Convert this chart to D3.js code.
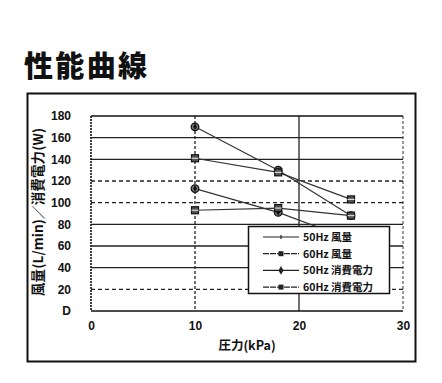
<!DOCTYPE html>
<html><head><meta charset="utf-8">
<script src="https://cdn.jsdelivr.net/npm/d3@7"></script>
<style>
html,body{margin:0;padding:0;background:#fff;}
svg{display:block;}
text{font-family:"Liberation Sans","DejaVu Sans","Noto Sans CJK JP",sans-serif;fill:#111;}
.jp{font-family:"Noto Sans CJK JP",sans-serif;}
</style></head><body>
<script>
const title = "性能曲線";
const xLabel = "圧力(kPa)";
const yLabel = "風量(L/min)／消費電力(W)";
const pressure = [10, 18, 25];
const seriesNames = ["50Hz 風量", "60Hz 風量", "50Hz 消費電力", "60Hz 消費電力"];
const seriesA = [170, 130, 88];
const seriesB = [141, 128, 103];
const seriesC = [113, 91, 66];
const seriesD = [93, 95, 88];
const xTicks = [0, 10, 20, 30];
const yTicks = [0, 20, 40, 60, 80, 100, 120, 140, 160, 180];
const yTickLabels = ["D", "20", "40", "60", "80", "100", "120", "140", "160", "180"];

const W = 442, H = 383;
const svg = d3.select("body").append("svg").attr("width", W).attr("height", H);

// title
svg.append("text").attr("class", "jp").attr("x", 24).attr("y", 77)
  .attr("font-size", 29).attr("font-weight", 900)
  .attr("textLength", 123).attr("lengthAdjust", "spacing").text(title);

// outer frame
svg.append("rect").attr("x", 27.5).attr("y", 93.5).attr("width", 388).attr("height", 268)
  .attr("fill", "none").attr("stroke", "#111").attr("stroke-width", 2);

const x = d3.scaleLinear().domain([0, 30]).range([91, 403]);
const y = d3.scaleLinear().domain([0, 180]).range([311, 116]);

// horizontal grid
const dashedY = new Set([20, 100, 120]);
svg.append("g").selectAll("line").data(yTicks.filter(v => v > 0 && v < 180)).join("line")
  .attr("x1", x(0)).attr("x2", x(30)).attr("y1", d => y(d)).attr("y2", d => y(d))
  .attr("stroke", "#222").attr("stroke-width", 1.3)
  .attr("stroke-dasharray", d => dashedY.has(d) ? "4,3" : null);
// vertical grid
svg.append("line").attr("x1", x(10)).attr("x2", x(10)).attr("y1", y(180)).attr("y2", y(0))
  .attr("stroke", "#222").attr("stroke-width", 1.3).attr("stroke-dasharray", "3,2");
svg.append("line").attr("x1", x(20)).attr("x2", x(20)).attr("y1", y(180)).attr("y2", y(0))
  .attr("stroke", "#222").attr("stroke-width", 1.3);
// plot border
svg.append("line").attr("x1", x(0)).attr("x2", x(30)).attr("y1", y(180)).attr("y2", y(180))
  .attr("stroke", "#111").attr("stroke-width", 1.6);
svg.append("line").attr("x1", x(0)).attr("x2", x(30)).attr("y1", y(0)).attr("y2", y(0))
  .attr("stroke", "#111").attr("stroke-width", 1.6);
svg.append("line").attr("x1", x(30)).attr("x2", x(30)).attr("y1", y(180)).attr("y2", y(0))
  .attr("stroke", "#333").attr("stroke-width", 1).attr("stroke-dasharray", "3,2");
svg.append("line").attr("x1", x(0)).attr("x2", x(0)).attr("y1", y(180)).attr("y2", y(0))
  .attr("stroke", "#111").attr("stroke-width", 1.6).attr("stroke-dasharray", "2,1");

// axes via d3 (labels only)
const yAxis = d3.axisLeft(y).tickValues(yTicks).tickSize(0).tickPadding(0)
  .tickFormat((d, i) => yTickLabels[i]);
const gy = svg.append("g").attr("transform", "translate(71,0)").call(yAxis);
gy.select(".domain").remove();
gy.selectAll("text").attr("font-size", 12).attr("font-weight", "bold")
  .attr("font-family", "'Liberation Sans',sans-serif").attr("fill", "#111");

const xAxis = d3.axisBottom(x).tickValues(xTicks).tickSize(0).tickPadding(0);
const gx = svg.append("g").attr("transform", "translate(0,321)").call(xAxis);
gx.select(".domain").remove();
gx.selectAll("text").attr("font-size", 12).attr("font-weight", "bold")
  .attr("font-family", "'Liberation Sans',sans-serif").attr("fill", "#111");

// axis titles
svg.append("text").attr("class", "jp").attr("x", 247).attr("y", 350)
  .attr("text-anchor", "middle").attr("font-size", 12.5).attr("font-weight", "bold").text(xLabel);
svg.append("text").attr("class", "jp")
  .attr("transform", "translate(43,212) rotate(-90)")
  .attr("text-anchor", "middle").attr("font-size", 13.5).attr("font-weight", "bold")
  .attr("textLength", 168).attr("lengthAdjust", "spacing").text(yLabel);

// series
const series = [
  {name: seriesNames[0], vals: seriesA, marker: "circle"},
  {name: seriesNames[1], vals: seriesB, marker: "square"},
  {name: seriesNames[2], vals: seriesC, marker: "circle"},
  {name: seriesNames[3], vals: seriesD, marker: "square"}
];
const line = d3.line().x((d, i) => x(pressure[i])).y(d => y(d));
series.forEach(s => {
  svg.append("path").attr("d", line(s.vals)).attr("fill", "none")
    .attr("stroke", "#333").attr("stroke-width", 1.2);
});
series.forEach(s => {
  const g = svg.append("g");
  s.vals.forEach((v, i) => {
    const cx = x(pressure[i]), cy = y(v);
    if (s.marker === "circle") {
      g.append("circle").attr("cx", cx).attr("cy", cy).attr("r", 3.8)
        .attr("fill", "#777").attr("stroke", "#111").attr("stroke-width", 1.3);
      g.append("path").attr("d", d3.symbol(d3.symbolDiamond, 12)())
        .attr("transform", `translate(${cx},${cy})`).attr("fill", "#111");
    } else {
      g.append("rect").attr("x", cx - 3.5).attr("y", cy - 3.5).attr("width", 7).attr("height", 7)
        .attr("fill", "#555").attr("stroke", "#111").attr("stroke-width", 1.2);
      g.append("line").attr("x1", cx - 3.5).attr("x2", cx + 3.5).attr("y1", cy).attr("y2", cy)
        .attr("stroke", "#eee").attr("stroke-width", 1);
    }
  });
});

// legend
const lg = svg.append("g");
lg.append("rect").attr("x", 248.5).attr("y", 226.5).attr("width", 141).attr("height", 67)
  .attr("fill", "#fff").attr("stroke", "#111").attr("stroke-width", 1.5);
const legendMarkers = ["tick", "square", "diamond", "square"];
series.forEach((s, i) => {
  const ly = 237 + i * 16.7;
  lg.append("line").attr("x1", 263).attr("x2", 299).attr("y1", ly).attr("y2", ly)
    .attr("stroke", "#222").attr("stroke-width", 1.2).attr("stroke-dasharray", i === 1 || i === 3 ? "6,1" : null);
  const m = legendMarkers[i];
  if (m === "tick") {
    lg.append("line").attr("x1", 281).attr("x2", 281).attr("y1", ly - 2).attr("y2", ly + 2)
      .attr("stroke", "#222").attr("stroke-width", 1.2);
  } else if (m === "square") {
    lg.append("rect").attr("x", 278.5).attr("y", ly - 2.5).attr("width", 5).attr("height", 5).attr("fill", "#222");
  } else {
    lg.append("path").attr("d", d3.symbol(d3.symbolDiamond, 22)())
      .attr("transform", `translate(281,${ly})`).attr("fill", "#222");
  }
  lg.append("text").attr("class", "jp").attr("x", 303).attr("y", ly + 4)
    .attr("font-size", 10.5).attr("font-weight", "bold").text(s.name);
});
</script>
</body></html>
